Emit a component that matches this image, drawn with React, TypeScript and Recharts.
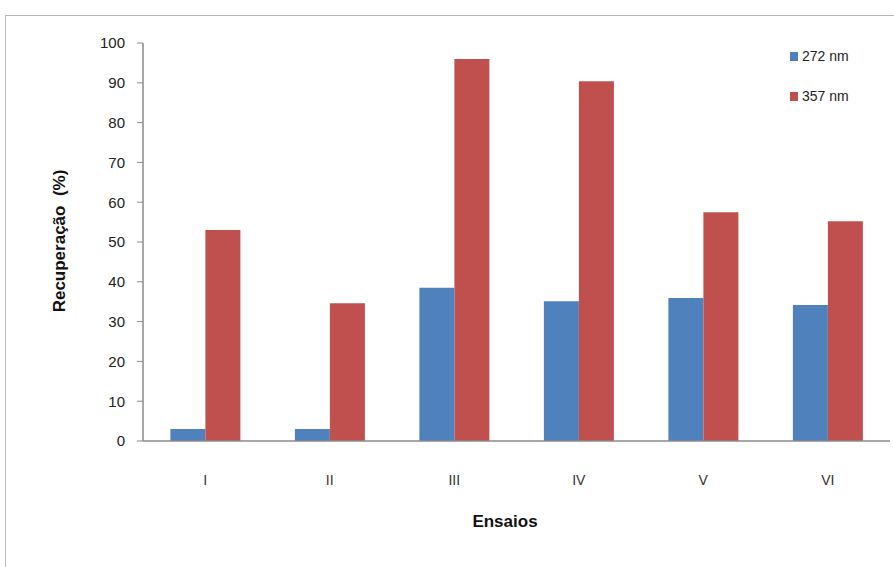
import React from 'react';
import { BarChart, Bar, XAxis, YAxis } from 'recharts';

const categories = ['I', 'II', 'III', 'IV', 'V', 'VI'];
const series272 = [3, 3, 38.5, 35.1, 35.9, 34.2];
const series357 = [53, 34.6, 96, 90.4, 57.5, 55.2];
const yTicks = [0, 10, 20, 30, 40, 50, 60, 70, 80, 90, 100];
const seriesNames = ['272 nm', '357 nm'];
const seriesColors = ['#4F81BD', '#C0504D'];

const data = categories.map((c, i) => ({ name: c, a: series272[i], b: series357[i] }));

const FONT = '"Liberation Sans", Arial, sans-serif';

export default function App() {
  return (
    <div style={{ position: 'absolute', left: 0, top: 0, width: 894, height: 567, background: '#fff', overflow: 'hidden' }}>
      <div style={{ position: 'absolute', left: 5, top: 15, width: 900, height: 600, border: '1px solid #b8b8b8', boxSizing: 'border-box' }} />
      <BarChart
        width={894}
        height={567}
        data={data}
        margin={{ top: 43, right: 4, left: 83, bottom: 66 }}
        barCategoryGap="22%"
        barGap={0}
      >
        <XAxis
          dataKey="name"
          height={60}
          tickLine={false}
          axisLine={{ stroke: '#8a8a8a', strokeWidth: 1.5 }}
          tick={{ fill: '#333', fontSize: 14, fontFamily: FONT }}
          tickMargin={28}
        />
        <YAxis
          width={60}
          domain={[0, 100]}
          ticks={yTicks}
          interval={0}
          tickSize={6}
          tickMargin={12}
          axisLine={{ stroke: '#8a8a8a', strokeWidth: 1.5 }}
          tickLine={{ stroke: '#8a8a8a' }}
          tick={{ fill: '#222', fontSize: 15, fontFamily: FONT }}
        />
        <Bar dataKey="a" name={seriesNames[0]} fill={seriesColors[0]} isAnimationActive={false} />
        <Bar dataKey="b" name={seriesNames[1]} fill={seriesColors[1]} isAnimationActive={false} />
      </BarChart>
      <div style={{ position: 'absolute', left: 790, top: 46, fontFamily: FONT, fontSize: 14, color: '#222' }}>
        {seriesNames.map((n, i) => (
          <div key={i} style={{ display: 'flex', alignItems: 'center', height: 20, marginBottom: 20 }}>
            <span style={{ display: 'inline-block', width: 8, height: 9, background: seriesColors[i], marginRight: 4 }} />
            <span>{n}</span>
          </div>
        ))}
      </div>
      <div style={{ position: 'absolute', left: 0, top: 512, width: 1010, textAlign: 'center', fontFamily: FONT, fontWeight: 'bold', fontSize: 17, color: '#111' }}>
        Ensaios
      </div>
      <div style={{ position: 'absolute', left: 60, top: 242, width: 0, height: 0 }}>
        <div style={{ position: 'absolute', left: -120, top: -11, width: 240, textAlign: 'center', transform: 'rotate(-90deg)', fontFamily: FONT, fontWeight: 'bold', fontSize: 17, color: '#111', whiteSpace: 'pre' }}>
          {'Recuperação  (%)'}
        </div>
      </div>
    </div>
  );
}
